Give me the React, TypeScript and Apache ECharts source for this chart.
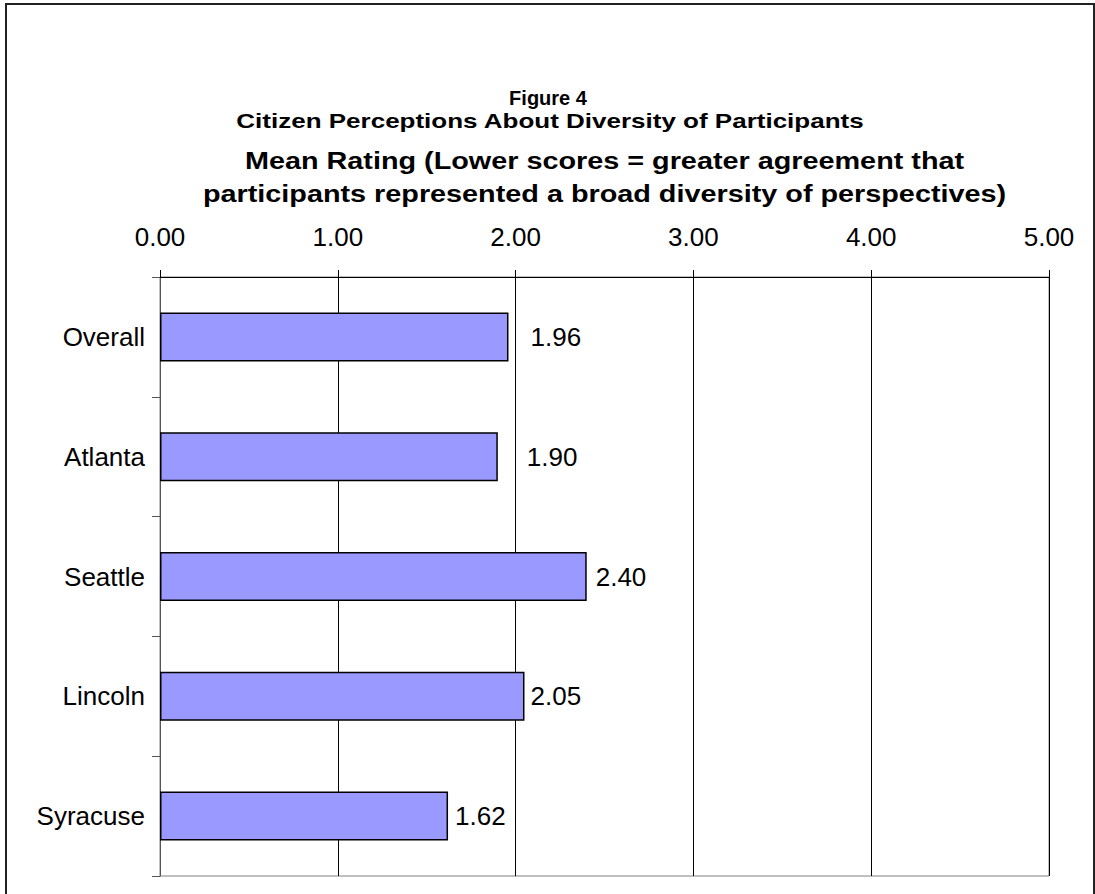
import React, { useEffect, useRef } from "react";
import * as echarts from "echarts";

const categories = ["Overall", "Atlanta", "Seattle", "Lincoln", "Syracuse"];
const values = [1.96, 1.9, 2.4, 2.05, 1.62];
const labelGaps = [22, 29, 9, 6, 7];
const xTicks = [0, 1, 2, 3, 4, 5];
const figureLabel = "Figure 4";
const figureTitle = "Citizen Perceptions About Diversity of Participants";
const axisTitle =
  "Mean Rating (Lower scores = greater agreement that\nparticipants represented a broad diversity of perspectives)";

const FONT = "'Liberation Sans', Arial, sans-serif";

export default function App() {
  const ref = useRef<HTMLDivElement>(null);
  useEffect(() => {
    if (!ref.current) return;
    const chart = echarts.init(ref.current, null, { renderer: "svg" });
    const gridLeft = 160;
    const gridRight = 1095 - 1049;
    const plotCenter = (gridLeft + (1095 - gridRight)) / 2;
    chart.setOption({
      animation: false,
      backgroundColor: "#fff",
      textStyle: { fontFamily: FONT },
      grid: {
        left: gridLeft,
        right: gridRight,
        top: 277,
        bottom: 18,
        show: true,
        borderColor: "#808080",
        borderWidth: 1,
        containLabel: false,
      },
      graphic: [
        {
          type: "rect",
          shape: { x: 6, y: 4, width: 1088, height: 900 },
          style: { fill: "none", stroke: "#222", lineWidth: 2 },
          silent: true,
        },
        {
          type: "text",
          x: 548,
          y: 88,
          style: {
            text: figureLabel,
            align: "center",
            verticalAlign: "top",
            font: `bold 20px ${FONT}`,
            fill: "#000",
          },
        },
        {
          type: "text",
          x: 550,
          y: 111,
          scaleX: 1.3,
          style: {
            text: figureTitle,
            align: "center",
            verticalAlign: "top",
            font: `bold 20px ${FONT}`,
            fill: "#000",
          },
        },
        {
          type: "text",
          x: plotCenter,
          y: 144,
          scaleX: 1.2,
          style: {
            text: axisTitle,
            align: "center",
            verticalAlign: "top",
            font: `bold 24px ${FONT}`,
            lineHeight: 33,
            fill: "#000",
          },
        },
      ],
      xAxis: {
        type: "value",
        position: "top",
        min: xTicks[0],
        max: xTicks[xTicks.length - 1],
        interval: 1,
        axisLine: { show: true, lineStyle: { color: "#000", width: 1 } },
        axisTick: { show: true, inside: false, length: 7, lineStyle: { color: "#000" } },
        axisLabel: {
          show: true,
          fontSize: 26,
          fontFamily: FONT,
          color: "#000",
          margin: 27,
          formatter: (v: number) => v.toFixed(2),
        },
        splitLine: { show: true, lineStyle: { color: "#000", width: 1 } },
      },
      yAxis: {
        type: "category",
        data: categories,
        inverse: true,
        axisLine: { show: true, lineStyle: { color: "#555", width: 1 } },
        axisTick: { show: true, inside: false, length: 8, lineStyle: { color: "#555" } },
        axisLabel: { fontSize: 26, fontFamily: FONT, color: "#000", margin: 15 },
        splitLine: { show: false },
      },
      series: [
        {
          type: "bar",
          barWidth: 49,
          data: values.map((v, i) => ({
            value: v,
            label: { distance: labelGaps[i] },
          })),
          itemStyle: { color: "#9999FF", borderColor: "#000", borderWidth: 1.5 },
          label: {
            show: true,
            position: "right",
            fontSize: 26,
            fontFamily: FONT,
            color: "#000",
            formatter: (p: any) => Number(p.value).toFixed(2),
          },
        },
      ],
    });
    return () => chart.dispose();
  }, []);
  return (
    <div
      ref={ref}
      style={{ position: "absolute", left: 0, top: 0, width: 1095, height: 894 }}
    />
  );
}
